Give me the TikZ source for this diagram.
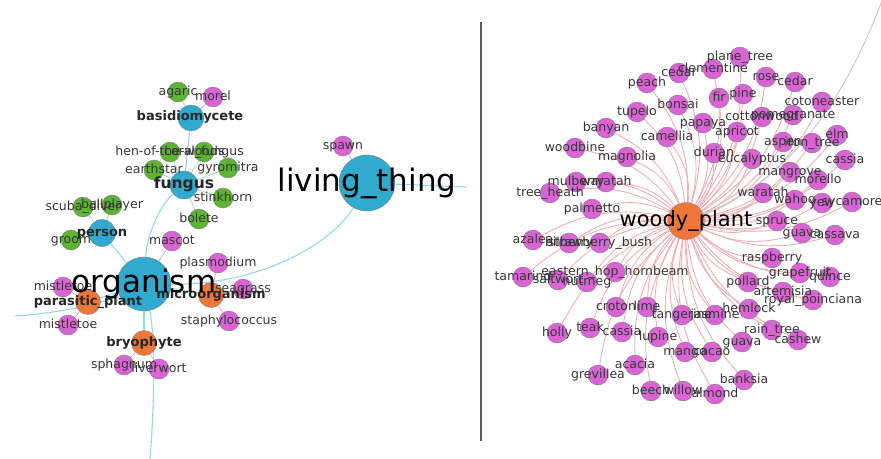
\documentclass[tikz,border=0pt]{standalone}
\usepackage{fontspec}
\setmainfont{DejaVu Sans}
\usetikzlibrary{backgrounds}

\definecolor{hubblue}{RGB}{48,170,206}
\definecolor{leafpink}{RGB}{218,100,214}
\definecolor{fungigreen}{RGB}{92,180,50}
\definecolor{midorange}{RGB}{238,118,56}
\definecolor{ringgray}{RGB}{130,130,130}
\definecolor{hubedge}{RGB}{150,216,234}
\definecolor{woodedge}{RGB}{240,176,180}
\definecolor{lilacedge}{RGB}{190,185,232}
\definecolor{mossedge}{RGB}{170,218,190}
\definecolor{labelgray}{RGB}{55,55,55}
\definecolor{farcolor}{RGB}{200,208,204}

\tikzset{
  blob/.style={circle, draw=ringgray, line width=0.4pt, inner sep=0pt},
  hub/.style={blob, fill=hubblue},
  midnode/.style={blob, fill=midorange, minimum size=25pt},
  leaf/.style={blob, fill=leafpink, minimum size=20pt},
  spore/.style={blob, fill=fungigreen, minimum size=20pt},
  lbl/.style={text=labelgray, font=\fontsize{12.5}{14}\selectfont, inner sep=0pt, text height=1.6ex, text depth=.3ex},
  boldlbl/.style={text=black!85, font=\bfseries\fontsize{13}{15}\selectfont, inner sep=0pt, text height=1.6ex, text depth=.3ex},
  biglbl/.style={text=black, font=\fontsize{31}{34}\selectfont, inner sep=0pt},
  hubline/.style={draw=hubedge, line width=1.1pt},
  woodline/.style={draw=woodedge, line width=0.9pt},
  lilacline/.style={draw=lilacedge, line width=0.8pt},
  mossline/.style={draw=mossedge, line width=0.8pt},
  pinkline/.style={draw=woodedge, line width=0.8pt},
  divider/.style={draw=black!65, line width=1.2pt},
}

% leaves of woody_plant: name/x/y/label
\newcommand{\woodyleaves}{%
 planetree/740/57/plane\_tree, clementine/713/69/clementine, cedara/679/73/cedar,
 peach/647/83/peach, rose/766/77/rose, cedarb/795/82/cedar, fir/719/98/fir,
 pine/743/94/pine, bonsai/678/105/bonsai, tupelo/637/112/tupelo,
 cotoneaster/822/102/cotoneaster, cottonwood/762/117/cottonwood,
 pomegranate/793/115/pomegranate, papaya/703/123/papaya, banyan/606/128/banyan,
 apricot/737/132/apricot, camellia/667/137/camellia, elm/837/135/elm,
 aspen/783/142/aspen, irontree/812/143/iron\_tree, woodbine/575/148/woodbine,
 durian/714/153/durian, eucalyptus/752/159/eucalyptus, magnolia/627/157/magnolia,
 cassiaa/845/160/cassia, mangrove/790/172/mangrove, morello/818/180/morello,
 mulberry/576/182/mulberry, warataha/606/182/waratah, treeheath/550/193/tree\_heath,
 waratahb/763/193/waratah, wahoo/795/200/wahoo, yew/822/203/yew,
 sycamore/852/202/sycamore, palmetto/592/209/palmetto, spruce/777/221/spruce,
 guavaa/802/233/guava, cassava/835/235/cassava, azalea/533/240/azalea,
 bilberry/569/243/bilberry, strawberrybush/600/243/strawberry\_bush,
 raspberry/772/258/raspberry, hornbeam/615/272/eastern\_hop\_hornbeam,
 grapefruit/800/273/grapefruit, quince/830/277/quince, tamarind/523/277/tamarind,
 saltwort/558/280/saltwort, nutmeg/587/282/nutmeg, pollard/748/282/pollard,
 artemisia/783/292/artemisia, poinciana/813/300/royal\_poinciana,
 croton/616/307/croton, lime/647/307/lime, hemlock/749/309/hemlock,
 tangerine/682/315/tangerine, jasmine/715/315/jasmine, holly/557/333/holly,
 teak/590/328/teak, cassiab/622/332/cassia, lupine/658/337/lupine,
 raintree/772/330/rain\_tree, cashew/798/340/cashew, guavab/742/342/guava,
 mango/685/352/mango, cacao/712/352/cacao, acacia/635/365/acacia,
 grevillea/598/375/grevillea, banksia/744/380/banksia, beech/651/391/beech,
 willow/683/391/willow, almond/715/394/almond}

\begin{document}
\begin{tikzpicture}[x=1pt,y=-1pt]
  \useasboundingbox (0,0) rectangle (881,458);

  % left panel: hubs
  \node[hub, minimum size=54pt] (organism) at (144,284) {};
  \node[hub, minimum size=56pt] (living) at (367,183) {};
  \node[hub, minimum size=28pt] (fungus) at (184,185) {};
  \node[hub, minimum size=26pt] (basidio) at (191,118) {};
  \node[hub, minimum size=27pt] (person) at (102,233) {};
  \node[midnode] (micro) at (211,295) {};
  \node[midnode] (parasitic) at (88,302) {};
  \node[midnode] (bryophyte) at (144,343) {};

  % left panel: green leaves
  \node[spore] (agaric) at (178,92) {};
  \node[spore] (hen) at (170,152) {};
  \node[spore] (coral) at (204,152) {};
  \node[spore] (earthstar) at (154,170) {};
  \node[spore] (gyromitra) at (228,168) {};
  \node[spore] (stinkhorn) at (223,198) {};
  \node[spore] (bolete) at (199,219) {};
  \node[spore] (scuba) at (83,207) {};
  \node[spore] (ballplayer) at (112,205) {};
  \node[spore] (groom) at (71,240) {};

  % left panel: pink leaves
  \node[leaf] (morel) at (213,97) {};
  \node[leaf] (mascot) at (172,241) {};
  \node[leaf] (plasmodium) at (218,263) {};
  \node[leaf] (seagrass) at (243,289) {};
  \node[leaf] (staph) at (229,321) {};
  \node[leaf] (mistletoea) at (63,287) {};
  \node[leaf] (mistletoeb) at (68,325) {};
  \node[leaf] (sphagnum) at (124,365) {};
  \node[leaf] (liverwort) at (159,369) {};
  \node[leaf] (spawn) at (343,146) {};

  \coordinate (leftend) at (15,316);
  \coordinate (bottomend) at (150,459);
  \coordinate (rightend) at (467,187);

  % right panel
  \node[blob, fill=midorange, minimum size=37pt] (woody) at (686,221) {};
  \foreach \n/\x/\y/\t in \woodyleaves {\node[leaf] (\n) at (\x,\y) {};}
  \coordinate (farend) at (883,-2);

  % labels on top of the circles
  \node[lbl] at (agaric) {agaric};
  \node[lbl] at (morel) {morel};
  \node[lbl] at (hen) {hen-of-the-woods};
  \node[lbl] at (coral) {coral\_fungus};
  \node[lbl] at (earthstar) {earthstar};
  \node[lbl] at (gyromitra) {gyromitra};
  \node[lbl] at (stinkhorn) {stinkhorn};
  \node[lbl] at (bolete) {bolete};
  \node[lbl] at (scuba) {scuba\_diver};
  \node[lbl] at (ballplayer) {ballplayer};
  \node[lbl] at (groom) {groom};
  \node[lbl] at (mascot) {mascot};
  \node[lbl] at (plasmodium) {plasmodium};
  \node[lbl] at (seagrass) {seagrass};
  \node[lbl] at (staph) {staphylococcus};
  \node[lbl] at (mistletoea) {mistletoe};
  \node[lbl] at (mistletoeb) {mistletoe};
  \node[lbl] at (sphagnum) {sphagnum};
  \node[lbl] at (liverwort) {liverwort};
  \node[lbl] at (spawn) {spawn};
  \node[boldlbl] at (190,117) {basidiomycete};
  \node[boldlbl, font=\bfseries\fontsize{15.5}{17}\selectfont] at (fungus) {fungus};
  \node[boldlbl] at (person) {person};
  \node[boldlbl] at (micro) {microorganism};
  \node[boldlbl] at (parasitic) {parasitic\_plant};
  \node[boldlbl] at (bryophyte) {bryophyte};
  \node[biglbl] at (organism) {organism};
  \node[biglbl] at (living) {living\_thing};
  \foreach \n/\x/\y/\t in \woodyleaves {\node[lbl] at (\n) {\t};}
  \node[biglbl, font=\fontsize{21}{24}\selectfont] at (woody) {woody\_plant};

  \draw[divider] (481,22) -- (481,441);

  % connectors behind everything
  \begin{scope}[on background layer]
    \fill[white] (0,0) rectangle (881,458);
    \draw[hubline] (living) .. controls (335,240) and (265,285) .. (organism);
    \draw[hubline] (organism) .. controls (147,235) and (160,205) .. (fungus);
    \draw[hubline] (fungus) -- (basidio);
    \draw[hubline] (organism) -- (person);
    \draw[hubline] (organism) -- (micro);
    \draw[hubline] (organism) -- (parasitic);
    \draw[hubline] (organism) -- (bryophyte);
    \draw[hubline] (organism) .. controls (156,340) and (154,410) .. (bottomend);
    \draw[hubline] (organism) .. controls (100,305) and (50,314) .. (leftend);
    \draw[hubline] (living) -- (rightend);
    \draw[lilacline] (living) -- (spawn);
    \draw[mossline] (basidio) -- (agaric);
    \draw[lilacline] (basidio) -- (morel);
    \draw[mossline] (fungus) -- (hen);
    \draw[mossline] (fungus) -- (coral);
    \draw[mossline] (fungus) -- (earthstar);
    \draw[mossline] (fungus) -- (gyromitra);
    \draw[mossline] (fungus) -- (stinkhorn);
    \draw[mossline] (fungus) -- (bolete);
    \draw[mossline] (person) -- (scuba);
    \draw[mossline] (person) -- (ballplayer);
    \draw[mossline] (person) -- (groom);
    \draw[lilacline] (organism) -- (mascot);
    \draw[pinkline] (micro) -- (plasmodium);
    \draw[pinkline] (micro) -- (seagrass);
    \draw[pinkline] (micro) -- (staph);
    \draw[pinkline] (parasitic) -- (mistletoea);
    \draw[pinkline] (parasitic) -- (mistletoeb);
    \draw[pinkline] (bryophyte) -- (sphagnum);
    \draw[pinkline] (bryophyte) -- (liverwort);
    \foreach \n/\x/\y/\t in \woodyleaves {\draw[woodline] (woody) to[bend right=20] (\n);}
    \draw[draw=farcolor, line width=1pt] (farend) .. controls (845,100) and (790,180) .. (woody);
  \end{scope}
\end{tikzpicture}
\end{document}
